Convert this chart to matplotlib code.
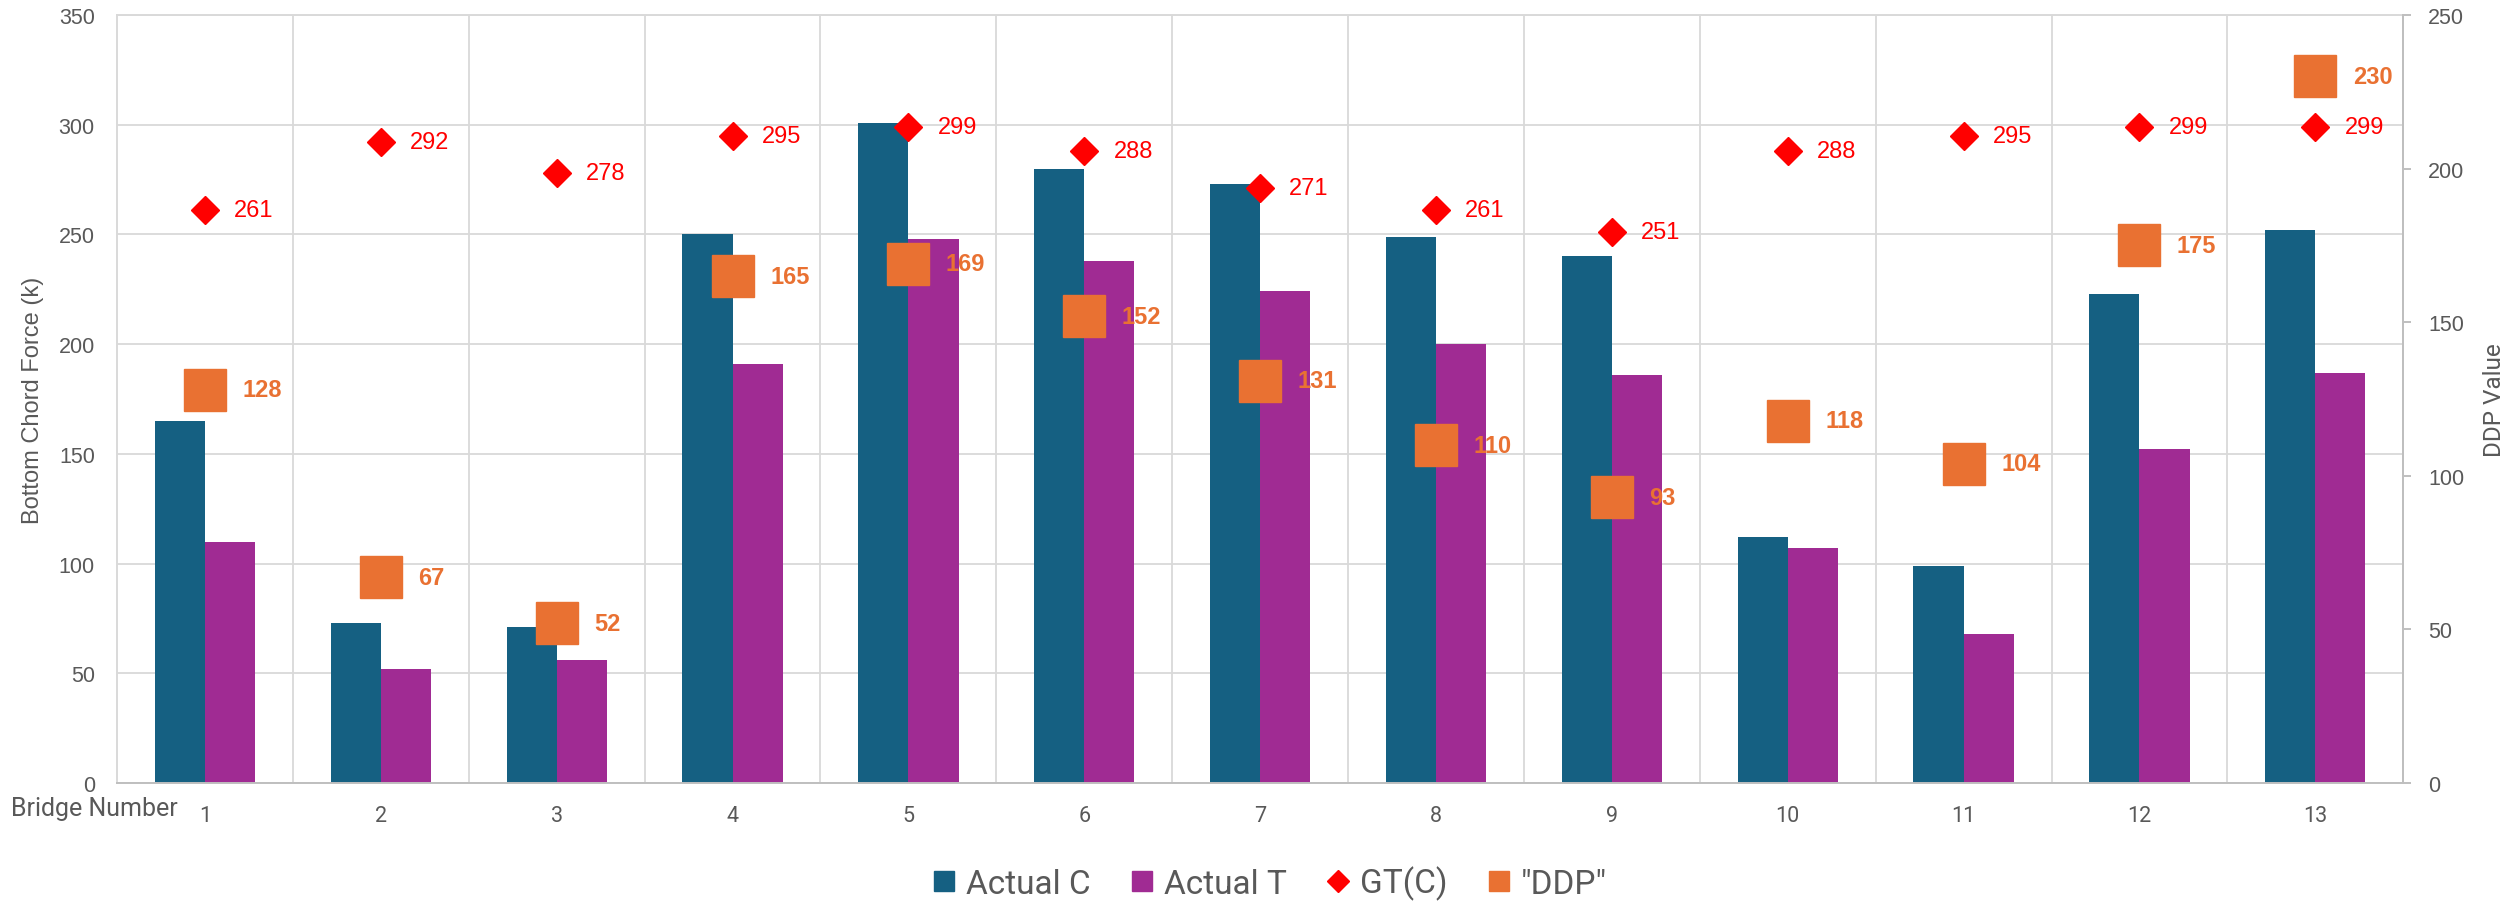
from matplotlib import pyplot as plt
from matplotlib.lines import Line2D
import numpy as np

# data
bridges = ["1", "2", "3", "4", "5", "6", "7", "8", "9", "10", "11", "12", "13"]
actual_c = [165, 73, 71, 250, 301, 280, 273, 249, 240, 112, 99, 223, 252]
actual_t = [110, 52, 56, 191, 248, 238, 224, 200, 186, 107, 68, 152, 187]
gt_c = [261, 292, 278, 295, 299, 288, 271, 261, 251, 288, 295, 299, 299]
ddp = [128, 67, 52, 165, 169, 152, 131, 110, 93, 118, 104, 175, 230]

C_COL = "#156082"
T_COL = "#A02B93"
GT_COL = "#FF0000"
DDP_COL = "#E97132"
GRID = "#D9D9D9"
AXIS = "#BFBFBF"
TXT = "#595959"


def draw_chart(out_file: str = "out.png") -> None:
    fig = plt.figure(figsize=(25.17, 9.04), dpi=100)
    ax = fig.add_axes([0.0465, 0.1327, 0.9083, 0.8496])
    x = np.arange(len(bridges))
    w = 0.285

    ax.bar(x - w / 2, actual_c, w, color=C_COL, zorder=2)
    ax.bar(x + w / 2, actual_t, w, color=T_COL, zorder=2)
    ax.plot(x, gt_c, linestyle="none", marker="D", markersize=14.3,
            color=GT_COL, zorder=4)
    for xi, v in zip(x, gt_c):
        ax.annotate(str(v), (xi, v), xytext=(21, 0), textcoords="offset points",
                    va="center", ha="left", color=GT_COL, fontsize=17,
                    family="Liberation Sans", zorder=5)

    ax.set_xlim(-0.5, len(bridges) - 0.5)
    ax.set_ylim(0, 350)
    ax.set_yticks(range(0, 351, 50))
    ax.set_xticks(x)
    ax.set_xticklabels(bridges)
    ax.set_xticks(x[:-1] + 0.5, minor=True)
    ax.tick_params(axis="x", which="both", length=0, pad=16, labelsize=15.5,
                   labelcolor=TXT)
    ax.tick_params(axis="y", length=0, pad=16, labelsize=15.5, labelcolor=TXT)
    for lab in ax.get_xticklabels():
        lab.set_family("Roboto")
    for lab in ax.get_yticklabels():
        lab.set_family("Liberation Sans")
    ax.grid(axis="y", color=GRID, linewidth=1.3, zorder=0)
    ax.grid(axis="x", which="minor", color=GRID, linewidth=1.3, zorder=0)
    ax.set_axisbelow(True)
    ax.spines["left"].set_color(GRID)
    ax.spines["top"].set_color(GRID)
    ax.spines["bottom"].set_color(AXIS)
    ax.spines["right"].set_color(AXIS)
    for s in ax.spines.values():
        s.set_linewidth(1.4)

    # DDP lives on the secondary axis
    ax2 = ax.twinx()
    ax2.set_ylim(0, 250)
    ax2.set_yticks(range(0, 251, 50))
    ax2.plot(x, ddp, linestyle="none", marker="s", markersize=30,
             color=DDP_COL, zorder=4)
    for xi, v in zip(x, ddp):
        ax2.annotate(str(v), (xi, v), xytext=(27, 0), textcoords="offset points",
                     va="center", ha="left", color=DDP_COL, fontsize=17,
                     fontweight="bold", family="Liberation Sans", zorder=5)
    ax2.tick_params(axis="y", length=6, width=1.4, color=AXIS, pad=12,
                    labelsize=15.5, labelcolor=TXT)
    for lab in ax2.get_yticklabels():
        lab.set_family("Liberation Sans")
    for s in ax2.spines.values():
        s.set_visible(False)
    ax2.spines["right"].set_visible(True)
    ax2.spines["right"].set_color(AXIS)
    ax2.spines["right"].set_linewidth(1.4)

    fig.text(0.013, 0.5575, "Bottom Chord Force (k)", rotation=90,
             va="center", ha="center", fontsize=17, color=TXT,
             family="Liberation Sans")
    fig.text(0.991, 0.5575, "DDP Value", rotation=90, va="center",
             ha="center", fontsize=17.5, color=TXT, family="Roboto")
    fig.text(0.0044, 0.105, "Bridge Number", va="center", ha="left",
             fontsize=18, color=TXT, family="Roboto")

    handles = [
        Line2D([], [], linestyle="none", marker="s", markersize=14.5, color=C_COL),
        Line2D([], [], linestyle="none", marker="s", markersize=14.5, color=T_COL),
        Line2D([], [], linestyle="none", marker="D", markersize=11, color=GT_COL),
        Line2D([], [], linestyle="none", marker="s", markersize=14.5, color=DDP_COL),
    ]
    labels = ["Actual C", "Actual T", "GT(C)", '"DDP"']
    fig.legend(handles, labels, loc="center", bbox_to_anchor=(0.5045, 0.022),
               ncol=4, frameon=False, handlelength=0.7, handletextpad=0.3,
               columnspacing=1.2, prop={"family": "Roboto", "size": 24},
               labelcolor=TXT)

    plt.savefig(out_file, dpi=100)
    plt.close()


def main():
    draw_chart()


if __name__ == "__main__":
    main()
